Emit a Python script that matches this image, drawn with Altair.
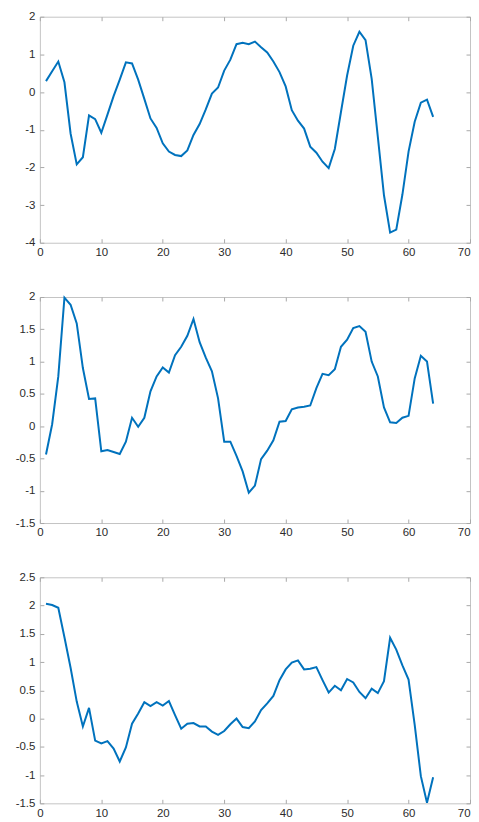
import altair as alt
import pandas as pd

x_vals = list(range(1, 65))

s1 = [0.29, 0.55, 0.81, 0.26, -1.10, -1.92, -1.73, -0.62, -0.72, -1.08,
      -0.60, -0.11, 0.33, 0.79, 0.76, 0.33, -0.18, -0.70, -0.95, -1.36,
      -1.58, -1.67, -1.70, -1.55, -1.14, -0.85, -0.46, -0.04, 0.12, 0.57,
      0.86, 1.27, 1.31, 1.27, 1.34, 1.19, 1.05, 0.81, 0.53, 0.15,
      -0.48, -0.76, -0.97, -1.45, -1.61, -1.85, -2.02, -1.51, -0.53, 0.44,
      1.23, 1.60, 1.38, 0.35, -1.19, -2.74, -3.73, -3.65, -2.72, -1.58,
      -0.79, -0.28, -0.20, -0.66]

s2 = [-0.44, 0.03, 0.77, 1.99, 1.88, 1.59, 0.90, 0.42, 0.43, -0.39,
      -0.37, -0.40, -0.43, -0.24, 0.13, -0.01, 0.13, 0.54, 0.77, 0.91,
      0.83, 1.10, 1.23, 1.40, 1.66, 1.30, 1.06, 0.85, 0.43, -0.24,
      -0.24, -0.46, -0.70, -1.03, -0.92, -0.51, -0.38, -0.22, 0.07, 0.08,
      0.26, 0.29, 0.30, 0.32, 0.59, 0.81, 0.79, 0.88, 1.23, 1.34,
      1.52, 1.55, 1.46, 1.00, 0.77, 0.29, 0.06, 0.05, 0.13, 0.16,
      0.74, 1.09, 1.00, 0.35]

s3 = [2.03, 2.01, 1.96, 1.44, 0.90, 0.30, -0.14, 0.19, -0.39, -0.44,
      -0.40, -0.53, -0.76, -0.51, -0.09, 0.09, 0.29, 0.22, 0.29, 0.23,
      0.31, 0.06, -0.18, -0.09, -0.08, -0.14, -0.14, -0.23, -0.29, -0.22,
      -0.10, 0.00, -0.15, -0.17, -0.05, 0.15, 0.27, 0.40, 0.68, 0.87,
      0.99, 1.03, 0.87, 0.88, 0.91, 0.68, 0.46, 0.58, 0.50, 0.70,
      0.64, 0.47, 0.36, 0.53, 0.45, 0.66, 1.43, 1.22, 0.94, 0.69,
      -0.11, -1.02, -1.49, -1.04]

x_ticks = [0, 10, 20, 30, 40, 50, 60, 70]
y1_ticks = [-4, -3, -2, -1, 0, 1, 2]
y2_ticks = [-1.5, -1, -0.5, 0, 0.5, 1, 1.5, 2]
y3_ticks = [-1.5, -1, -0.5, 0, 0.5, 1, 1.5, 2, 2.5]

W, H = 432, 227
LINE = "#0072BD"
TICK = "#a8a8a8"
LABEL = "#2b2b2b"
LBL_EXPR = "'' + datum.value"
LAST_X = x_ticks[-1]


def panel(vals, yticks):
    df = pd.DataFrame({"x": x_vals, "y": vals})
    xs = alt.Scale(domain=[x_ticks[0], x_ticks[-1]], nice=False, zero=False)
    ys = alt.Scale(domain=[yticks[0], yticks[-1]], nice=False, zero=False)
    base = alt.Chart(df)

    main = base.mark_line(color=LINE, strokeWidth=2).encode(
        x=alt.X("x:Q", scale=xs, axis=alt.Axis(
            orient="bottom", values=x_ticks, ticks=False, tickSize=0,
            domain=False, grid=False, title=None, labelPadding=4,
            labelFlush=False, labelExpr=LBL_EXPR,
            labelAlign={"condition": {"test": f"datum.value == {LAST_X}",
                                      "value": "right"},
                        "value": "center"})),
        y=alt.Y("y:Q", scale=ys, axis=alt.Axis(
            orient="left", values=yticks, ticks=False, tickSize=0,
            domain=False, grid=False, title=None, labelPadding=5,
            labelExpr=LBL_EXPR)),
    )
    t1 = base.mark_line(opacity=0).encode(
        x=alt.X("x:Q", scale=xs, axis=alt.Axis(
            orient="top", offset=-H, values=x_ticks, labels=False,
            domain=False, grid=False, title=None, tickSize=4,
            tickColor=TICK)),
        y=alt.Y("y:Q", scale=ys, axis=alt.Axis(
            orient="right", offset=-W, values=yticks, labels=False,
            domain=False, grid=False, title=None, tickSize=4,
            tickColor=TICK)),
    )
    t2 = base.mark_line(opacity=0).encode(
        x=alt.X("x:Q", scale=xs, axis=alt.Axis(
            orient="bottom", offset=-H, values=x_ticks, labels=False,
            domain=False, grid=False, title=None, tickSize=4,
            tickColor=TICK)),
        y=alt.Y("y:Q", scale=ys, axis=alt.Axis(
            orient="left", offset=-W, values=yticks, labels=False,
            domain=False, grid=False, title=None, tickSize=4,
            tickColor=TICK)),
    )
    return (
        alt.layer(main, t1, t2)
        .resolve_axis(x="independent", y="independent")
        .properties(width=W, height=H)
    )


chart = (
    alt.vconcat(panel(s1, y1_ticks), panel(s2, y2_ticks), panel(s3, y3_ticks),
                spacing=31.5)
    .properties(padding={"left": 6, "top": 0, "right": 0, "bottom": -2.5})
    .configure_view(stroke="#c4c4c4", strokeWidth=1)
    .configure_axis(labelFont="Liberation Sans", labelFontSize=11.5,
                    labelColor=LABEL)
)

chart.save("out.html", embed_options={"renderer": "svg", "actions": False})
